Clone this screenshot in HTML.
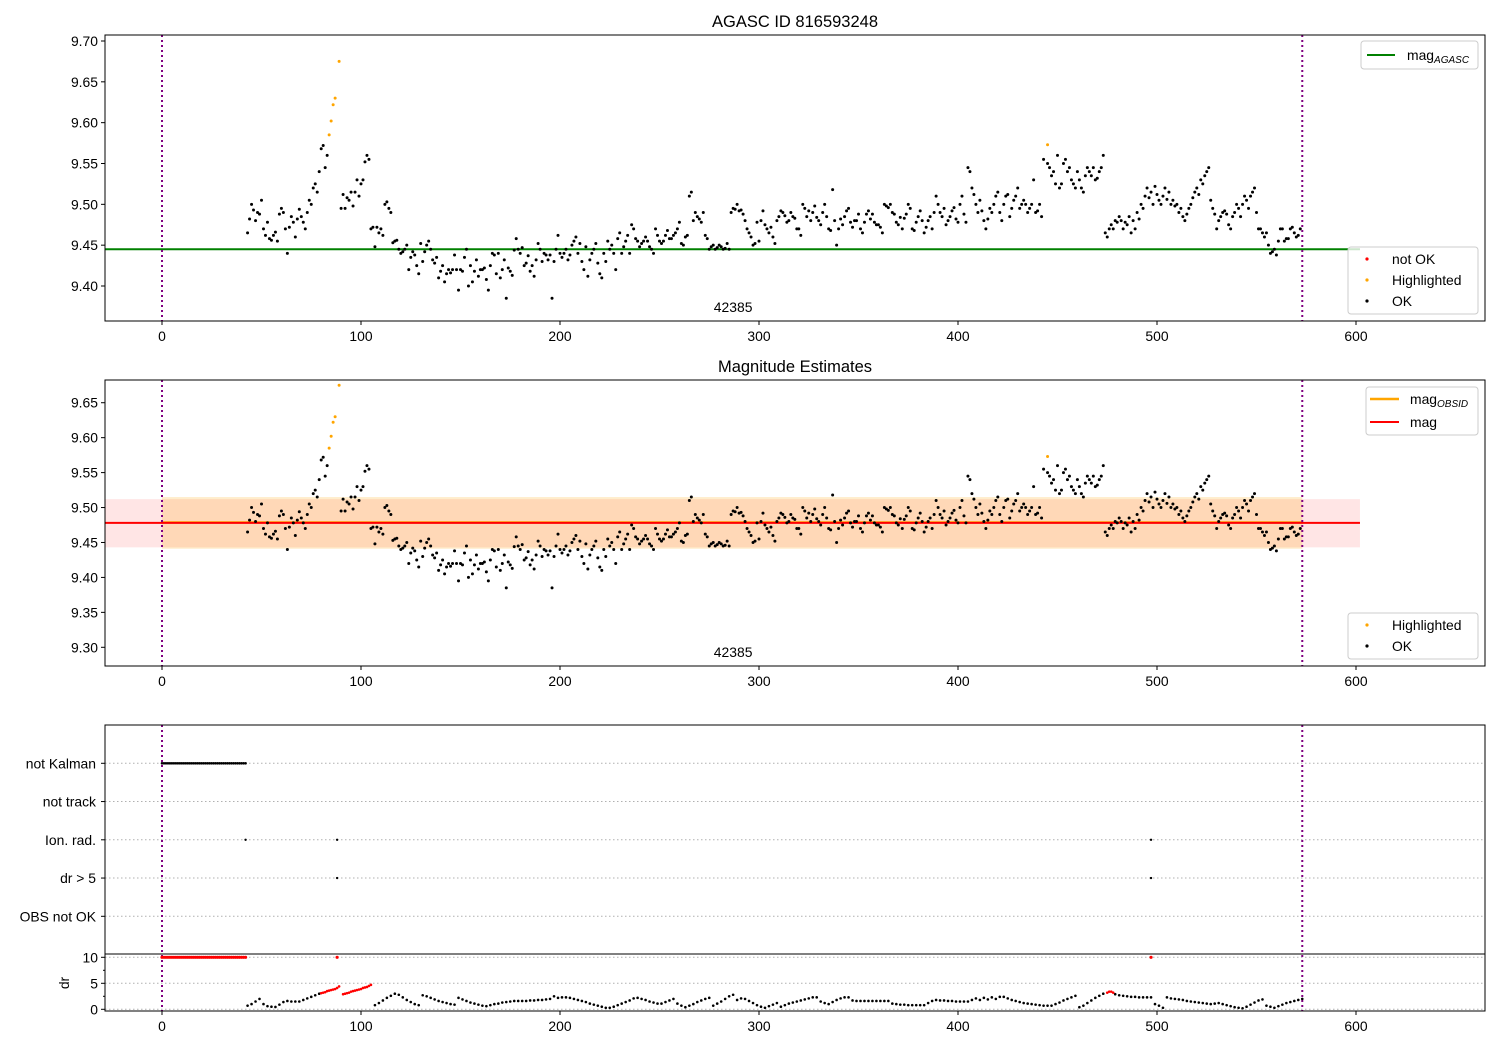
<!DOCTYPE html>
<html><head><meta charset="utf-8"><style>
body{margin:0;background:#fff;}
svg{display:block;font-family:"Liberation Sans","DejaVu Sans",sans-serif;}
</style></head><body>
<svg id="fig" width="1500" height="1050" viewBox="0 0 1500 1050" xmlns="http://www.w3.org/2000/svg"></svg>
<script>
// ---- data ----
const magStart = 43;
const magValues = [
9.465,9.482,9.500,9.493,9.480,9.490,9.488,9.505,9.470,9.462,
9.478,9.458,9.456,9.462,9.466,9.455,9.488,9.495,9.490,9.470,
9.440,9.472,9.485,9.478,9.460,9.482,9.494,9.485,9.478,9.470,
9.490,9.505,9.500,9.520,9.525,9.515,9.540,9.568,9.572,9.545,
9.560,null,null,null,null,null,null,9.495,9.512,9.495,
9.508,9.505,9.515,9.498,9.515,9.530,9.510,9.525,9.530,9.552,
9.560,9.555,9.470,9.472,9.448,9.472,9.465,9.470,9.462,9.500,
9.503,9.495,9.490,9.453,9.455,9.456,9.445,9.440,9.442,9.445,
9.450,9.420,9.435,9.442,9.438,9.425,9.415,9.452,9.430,9.442,
9.450,9.455,9.445,9.432,9.428,9.435,9.410,9.418,9.425,9.405,
9.415,9.420,9.416,9.420,9.438,9.420,9.395,9.420,9.418,9.435,
9.445,9.400,9.425,9.405,9.418,9.432,9.412,9.420,9.420,9.422,
9.408,9.395,9.425,9.440,9.438,9.415,9.440,9.410,9.420,9.432,
9.385,9.422,9.418,9.413,9.444,9.458,9.445,9.440,9.447,9.425,
9.428,9.437,9.418,9.425,9.412,9.432,9.452,9.445,9.430,9.440,
9.438,9.432,9.438,9.385,9.430,9.445,9.462,9.440,9.435,9.440,
9.445,9.432,9.438,9.450,9.455,9.460,9.440,9.452,9.430,9.420,
9.448,9.412,9.432,9.440,9.445,9.452,9.428,9.415,9.410,9.440,
9.430,9.455,9.445,9.450,9.440,9.420,9.458,9.465,9.440,9.448,
9.455,9.462,9.440,9.475,9.470,9.458,9.455,9.448,9.452,9.455,
9.460,9.455,9.448,9.445,9.440,9.470,9.462,9.455,9.452,9.455,
9.462,9.468,9.458,9.458,9.462,9.465,9.470,9.478,9.452,9.450,
9.460,9.462,9.510,9.515,9.480,9.490,9.485,9.482,9.478,9.490,
9.462,9.458,9.445,9.448,9.450,9.445,9.447,9.450,9.448,9.445,
9.446,9.452,9.445,9.490,9.495,9.494,9.500,9.492,9.493,9.488,
9.480,9.470,9.465,9.460,9.450,9.452,9.478,9.455,9.480,9.492,
9.475,9.470,9.465,9.472,9.460,9.452,9.480,9.485,9.492,9.490,
9.486,9.478,9.480,9.490,9.485,9.483,9.470,9.470,9.462,9.500,
9.495,9.485,9.492,9.480,9.490,9.498,9.484,9.480,9.475,9.490,
9.500,9.485,9.470,9.468,9.518,9.480,9.450,9.470,9.482,9.475,
9.485,9.492,9.495,9.478,9.472,9.480,9.480,9.488,9.470,9.465,
9.478,9.488,9.492,9.482,9.488,9.478,9.475,9.475,9.472,9.465,
9.500,9.498,9.496,9.500,9.490,9.488,9.478,9.475,9.484,9.470,
9.483,9.488,9.500,9.495,9.470,9.468,9.478,9.485,9.492,9.480,
9.465,9.472,9.480,9.485,9.470,9.490,9.510,9.500,9.490,9.485,
9.495,9.475,9.480,9.485,9.492,9.496,9.482,9.478,9.500,9.510,
9.488,9.478,9.545,9.540,9.520,9.512,9.500,9.490,9.505,9.492,
9.480,9.470,9.482,9.495,9.490,9.500,9.510,9.515,9.490,9.480,
9.500,9.510,9.512,9.485,9.495,9.505,9.510,9.520,9.495,9.500,
9.505,9.500,9.490,9.495,9.500,9.530,9.490,9.492,9.500,9.485,
9.555,null,9.550,9.545,9.535,9.540,9.525,9.560,9.520,9.525,
9.550,9.555,9.540,9.545,9.530,9.525,9.520,9.540,9.530,9.520,
9.515,9.535,9.545,9.540,9.535,9.545,9.530,9.532,9.540,9.545,
9.560,9.465,9.460,9.470,9.475,9.470,9.480,9.478,9.485,9.480,
9.470,9.478,9.475,9.485,9.465,9.480,9.470,9.490,9.482,9.500,
9.495,9.510,9.520,9.508,9.515,9.500,9.522,9.512,9.505,9.500,
9.510,9.520,9.506,9.515,9.500,9.505,9.498,9.500,9.490,9.495,
9.485,9.480,9.488,9.495,9.500,9.508,9.515,9.520,9.512,9.530,
9.525,9.535,9.540,9.545,9.505,9.495,9.488,9.470,9.480,9.485,
9.490,9.492,9.488,9.475,9.470,9.485,9.490,9.500,9.495,9.485,
9.500,9.510,9.505,9.495,9.510,9.515,9.520,9.490,9.470,9.470,
9.465,9.460,9.465,9.450,9.440,9.442,9.445,9.438,9.455,9.470,
9.470,9.455,9.458,9.458,9.470,9.472,9.465,9.460,9.462,9.470
];
const hlTimes = [84,85,86,87,89,445];
const hlValues = [9.585,9.602,9.622,9.630,9.675,9.573];
const magAgasc = 9.445;
const magMean = 9.478;
const magBandLow = 9.443;
const magBandHigh = 9.512;
const obsidMag = 9.479;
const obsidBandLow = 9.441;
const obsidBandHigh = 9.515;
const obsStart = 0, obsEnd = 573, lineEnd = 602;
const obsidLabel = "42385";
const obsidLabelTime = 287;

const drStart = 43;
const drValues = [
0.7,1.0,1.5,2.0,1.0,0.6,0.5,0.45,0.9,1.4,1.6,1.5,1.5,1.5,1.8,2.1,2.4,2.7,3.0,
null,null,null,null,null,null,null,null,null,null,null,null,null,
0.8,1.2,1.7,2.2,2.6,3.0,2.8,2.3,1.8,1.4,1.0,0.8,
2.7,2.5,2.2,1.9,1.6,1.4,1.2,1.0,0.9,
2.2,1.9,1.6,1.3,1.1,0.9,0.7,0.6,0.8,1.0,1.1,1.3,1.4,1.5,1.6,1.6,1.6,1.6,1.7,1.7,1.8,1.8,1.9,2.0,2.5,2.2,
2.3,2.3,2.2,2.0,1.8,1.6,1.4,1.1,0.9,0.7,0.5,0.3,0.3,0.5,0.8,1.1,1.4,1.7,2.1,2.2,2.0,1.8,1.5,1.3,1.1,
1.1,1.4,1.7,2.0,1.1,0.7,0.4,0.7,1.0,1.4,1.7,2.0,2.2,0.7,1.1,1.5,2.0,2.5,2.8,1.8,2.1,2.0,1.6,1.2,0.8,0.5,
0.3,0.6,0.9,1.2,0.5,0.8,1.1,1.3,1.5,1.7,1.9,2.1,2.3,2.3,1.5,1.2,1.0,1.4,1.8,2.1,2.3,2.3,1.7,1.6,1.6,1.6,
1.6,1.6,1.6,1.6,1.6,1.6,1.1,1.0,0.9,0.9,0.8,0.8,0.8,0.8,0.8,1.2,1.6,1.8,1.7,1.7,1.6,1.6,1.5,1.5,1.5,1.5,
1.8,2.1,1.8,2.2,1.9,2.3,2.0,2.4,2.4,2.1,1.8,1.6,1.4,1.2,1.1,1.0,0.9,0.8,0.7,0.7,0.7,1.0,1.3,1.7,2.0,2.3,
2.6,0.4,0.7,1.2,1.7,2.2,2.6,3.0,null,null,2.9,2.7,2.6,2.5,2.4,2.4,2.3,2.3,2.3,2.3,1.0,0.7,0.3,2.3,2.1,2.0,
1.9,1.8,1.6,1.5,1.4,1.3,1.2,1.1,1.0,1.1,1.2,1.0,0.8,0.6,0.4,0.3,0.2,0.5,0.9,1.3,1.7,1.9,0.7,0.5,0.3,0.6,
0.9,1.2,1.4,1.6,1.8,2.0
];
const drRedTimes = [80,81,82,83,84,85,86,87,88,89,91,92,93,94,95,96,97,98,99,100,101,102,103,104,105,475,476,477,478];
const drRedValues = [3.1,3.2,3.3,3.5,3.6,3.7,3.8,3.9,4.1,4.4,2.9,3.0,3.1,3.2,3.4,3.5,3.6,3.7,3.8,3.9,4.1,4.2,4.3,4.5,4.7,3.2,3.4,3.4,3.2];
const drCapTimes = [0,1,2,3,4,5,6,7,8,9,10,11,12,13,14,15,16,17,18,19,20,21,22,23,24,25,26,27,28,29,30,31,32,33,34,35,36,37,38,39,40,41,42,88,497];
const notKalmanTimes = [0,1,2,3,4,5,6,7,8,9,10,11,12,13,14,15,16,17,18,19,20,21,22,23,24,25,26,27,28,29,30,31,32,33,34,35,36,37,38,39,40,41,42];
const ionRadTimes = [42,88,497];
const drGt5Times = [88,497];
const flagLabels = ["not Kalman","not track","Ion. rad.","dr > 5","OBS not OK"];
const xTicks = [0,100,200,300,400,500,600];
const y1Ticks = [9.40,9.45,9.50,9.55,9.60,9.65,9.70];
const y2Ticks = [9.30,9.35,9.40,9.45,9.50,9.55,9.60,9.65];
const drTicks = [0,5,10];

// ---- drawing ----
const svg = document.getElementById('fig');
const NS = 'http://www.w3.org/2000/svg';
const FS = 13.9;
function mk(tag, attrs, parent){const e=document.createElementNS(NS,tag);for(const k in attrs)e.setAttribute(k,attrs[k]);(parent||svg).appendChild(e);return e;}
const L=105,R=1485;
const X = t => 162 + (t-0)*1.99;
const Y1 = v => 286 - (v-9.40)*816.7;
const Y2 = v => 647.3 - (v-9.30)*698.8;
const YD = v => 1009.3 - v*5.2;
const flagY = i => 763.3 + i*38.25;

function frame(top,bot,name){
  const r=mk('rect',{x:L,y:top,width:R-L,height:bot-top,fill:'none',stroke:'#000','stroke-width':1});
  
  
}
function xAxis(bot,name){
  const g=mk('g',{});
  
  
  xTicks.forEach(t=>{
    mk('line',{x1:X(t),x2:X(t),y1:bot,y2:bot+4,stroke:'#000'},g);
    const tx=mk('text',{x:X(t),y:bot+20,'font-size':FS,'text-anchor':'middle',fill:'#000'},g);tx.textContent=t;
  });
}
function yAxis(ticks,Yf,name,fmt){
  const g=mk('g',{});
  
  
  ticks.forEach(v=>{
    mk('line',{x1:L-4,x2:L,y1:Yf(v),y2:Yf(v),stroke:'#000'},g);
    const tx=mk('text',{x:L-7,y:Yf(v)+5,'font-size':FS,'text-anchor':'end',fill:'#000'},g);tx.textContent=fmt(v);
  });
}
function vlines(top,bot){
  [obsStart,obsEnd].forEach(t=>{
    const l=mk('line',{x1:X(t),x2:X(t),y1:top,y2:bot,stroke:'#800080','stroke-width':2,'stroke-dasharray':'2,3'});
    
    
  });
}
function dots(times,vals,Yf,color,r,name){
  const g=mk('g',{fill:color});
  
  
  times.forEach((t,i)=>{ if(vals[i]==null) return; mk('circle',{cx:X(t),cy:Yf(vals[i]),r:r},g); });
}
const magTimes = magValues.map((v,i)=>magStart+i);
const drTimes = drValues.map((v,i)=>drStart+2*i);

// titles
let t1=mk('text',{x:795,y:27,'font-size':16.5,'text-anchor':'middle'});t1.textContent='AGASC ID 816593248';

let t2=mk('text',{x:795,y:372,'font-size':16.5,'text-anchor':'middle'});t2.textContent='Magnitude Estimates';


// ---- panel 1 ----
let ag=mk('line',{x1:X(-28.6),x2:X(lineEnd),y1:Y1(magAgasc),y2:Y1(magAgasc),stroke:'#008000','stroke-width':2});

vlines(35,321);
dots(magTimes,magValues,Y1,'#000',1.5,'ok-points-top');
dots(hlTimes,hlValues,Y1,'#FFA500',1.5,'highlighted-points-top');
let o1=mk('text',{x:X(obsidLabelTime),y:312,'font-size':FS,'text-anchor':'middle'});o1.textContent=obsidLabel;

frame(35,321,'top-plot-frame');
xAxis(321,'top-x-axis');
yAxis(y1Ticks,Y1,'top-y-axis',v=>v.toFixed(2));

function legendBox(x,y,w,h,name){const r=mk('rect',{x:x,y:y,width:w,height:h,rx:3,fill:'#fff','fill-opacity':0.8,stroke:'#ccc'});}
legendBox(1361,41,117,28,'agasc-legend');
mk('line',{x1:1367,x2:1395,y1:55,y2:55,stroke:'#008000','stroke-width':2});
let lt=mk('text',{x:1407,y:60,'font-size':FS});lt.innerHTML='mag<tspan font-size="10" font-style="italic" dy="3">AGASC</tspan>';

legendBox(1348,247,130,67,'status-legend-top');
[['#ff0000','not OK',259],['#FFA500','Highlighted',280],['#000','OK',301]].forEach(([c,s,yy])=>{
  mk('circle',{cx:1367,cy:yy,r:1.6,fill:c});
  const tx=mk('text',{x:1392,y:yy+5,'font-size':FS});tx.textContent=s;
  
});

// ---- panel 2 ----
let b1=mk('rect',{x:X(-28.6),y:Y2(magBandHigh),width:X(lineEnd)-X(-28.6),height:Y2(magBandLow)-Y2(magBandHigh),fill:'#ff0000','fill-opacity':0.1});

let b2=mk('rect',{x:X(obsStart),y:Y2(obsidBandHigh),width:X(obsEnd)-X(obsStart),height:Y2(obsidBandLow)-Y2(obsidBandHigh),fill:'#FFA500','fill-opacity':0.2});

let ol=mk('line',{x1:X(obsStart),x2:X(obsEnd),y1:Y2(obsidMag),y2:Y2(obsidMag),stroke:'#FFA500','stroke-width':2});

let ml=mk('line',{x1:X(-28.6),x2:X(lineEnd),y1:Y2(magMean),y2:Y2(magMean),stroke:'#ff0000','stroke-width':2});

vlines(380,666);
dots(magTimes,magValues,Y2,'#000',1.5,'ok-points-middle');
dots(hlTimes,hlValues,Y2,'#FFA500',1.5,'highlighted-points-middle');
let o2=mk('text',{x:X(obsidLabelTime),y:657,'font-size':FS,'text-anchor':'middle'});o2.textContent=obsidLabel;

frame(380,666,'middle-plot-frame');
xAxis(666,'middle-x-axis');
yAxis(y2Ticks,Y2,'middle-y-axis',v=>v.toFixed(2));
legendBox(1366,387,112,48,'mag-legend');
mk('line',{x1:1370,x2:1399,y1:399,y2:399,stroke:'#FFA500','stroke-width':2.5});
let lt2=mk('text',{x:1410,y:404,'font-size':FS});lt2.innerHTML='mag<tspan font-size="10" font-style="italic" dy="3">OBSID</tspan>';

mk('line',{x1:1370,x2:1399,y1:422,y2:422,stroke:'#ff0000','stroke-width':2});
let lt3=mk('text',{x:1410,y:427,'font-size':FS});lt3.textContent='mag';

legendBox(1348,613,130,46,'status-legend-middle');
[['#FFA500','Highlighted',625],['#000','OK',646]].forEach(([c,s,yy])=>{
  mk('circle',{cx:1367,cy:yy,r:1.6,fill:c});
  const tx=mk('text',{x:1392,y:yy+5,'font-size':FS});tx.textContent=s;
  
});

// ---- panel 3: flags ----
flagLabels.forEach((s,i)=>{
  mk('line',{x1:L,x2:R,y1:flagY(i),y2:flagY(i),stroke:'#b0b0b0','stroke-dasharray':'1.5,2.5'});
  mk('line',{x1:L-4,x2:L,y1:flagY(i),y2:flagY(i),stroke:'#000'});
  const tx=mk('text',{x:L-9,y:flagY(i)+5,'font-size':FS,'text-anchor':'end'});tx.textContent=s;
  
});
drTicks.forEach(v=>mk('line',{x1:L,x2:R,y1:YD(v),y2:YD(v),stroke:'#b0b0b0','stroke-dasharray':'1.5,2.5'}));
vlines(725,1011);
dots(notKalmanTimes,notKalmanTimes.map(()=>0),v=>flagY(0),'#000',1.3,'not-kalman-flags');
dots(ionRadTimes,ionRadTimes.map(()=>0),v=>flagY(2),'#000',1.2,'ion-rad-flags');
dots(drGt5Times,drGt5Times.map(()=>0),v=>flagY(3),'#000',1.2,'dr-gt-5-flags');
let f1=mk('rect',{x:L,y:725,width:R-L,height:229,fill:'none',stroke:'#000'});

dots(drTimes,drValues,YD,'#000',1.3,'dr-points');
dots(drRedTimes,drRedValues,YD,'#ff0000',1.3,'dr-bad-points');
dots(drCapTimes,drCapTimes.map(()=>10),YD,'#ff0000',1.6,'dr-capped-points');
let f2=mk('rect',{x:L,y:954,width:R-L,height:57,fill:'none',stroke:'#000'});

yAxis(drTicks,YD,'dr-y-axis',v=>String(v));
[2.5,7.5].forEach(v=>mk('line',{x1:L-2,x2:L,y1:YD(v),y2:YD(v),stroke:'#000'}));
let dl=mk('text',{x:0,y:0,'font-size':FS,'text-anchor':'middle',transform:'translate(69,983) rotate(-90)'});dl.textContent='dr';

xAxis(1011,'bottom-x-axis');
</script>
</body></html>
